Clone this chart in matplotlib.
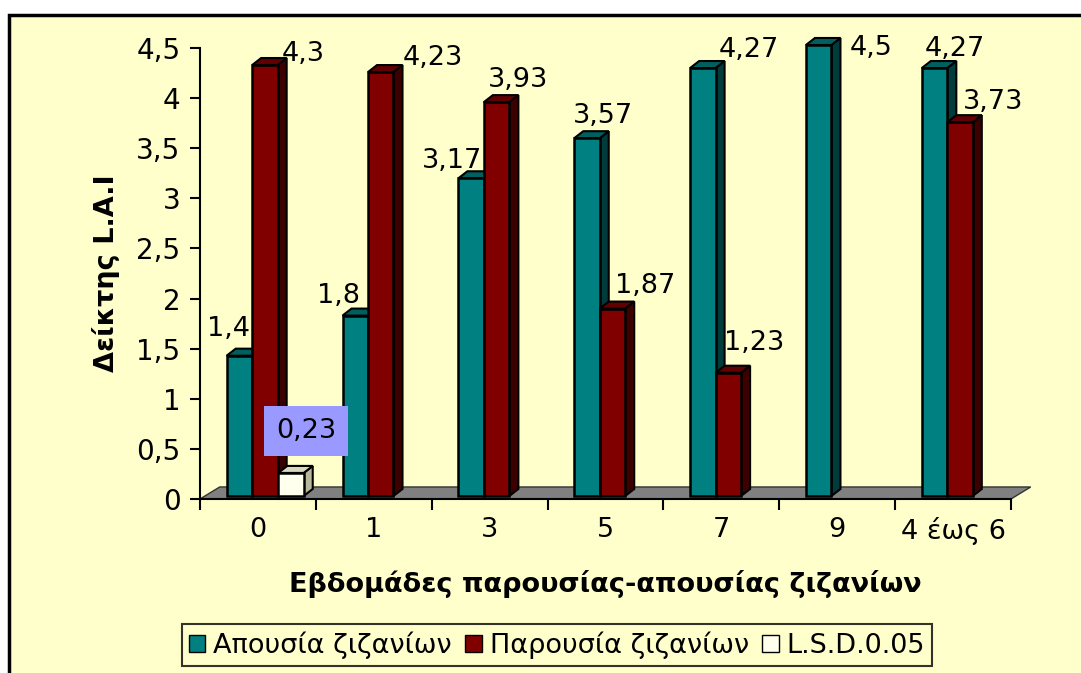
import numpy as np
import matplotlib
matplotlib.use("Agg")
import matplotlib.pyplot as plt
from matplotlib.patches import Polygon, Rectangle, Patch
from matplotlib.ticker import FuncFormatter, FixedLocator

categories = ["0", "1", "3", "5", "7", "9", "4 έως 6"]
absence = [1.4, 1.8, 3.17, 3.57, 4.27, 4.5, 4.27]
presence = [4.3, 4.23, 3.93, 1.87, 1.23, np.nan, 3.73]
lsd = [0.23, np.nan, np.nan, np.nan, np.nan, np.nan, np.nan]
series_names = ["Απουσία ζιζανίων", "Παρουσία ζιζανίων", "L.S.D.0.05"]

# label offsets in pixels (dx from bar centre, dy above bar top) - Excel places them oddly
lab_abs = [(-11, 20), (-17, 13), (-19, 10), (16, 15), (46, 11), (52, -10), (20, 12)]
lab_pres = [(38, 4), (52, 7), (21, 15), (33, 16), (26, 23), None, (33, 13)]
lab_lsd = [(15, 35)] + [None] * 6

bg = "#FFFFCC"
plt.rcParams["font.family"] = ["DejaVu Sans"]
fs = 19.5

W, H = 1081, 673
fig = plt.figure(figsize=(W / 100, H / 100), dpi=100)
fig.patch.set_facecolor("white")
fig.add_artist(Rectangle((9 / W, -0.05), 1.1, 1 - 15 / H + 0.05, transform=fig.transFigure,
                         facecolor=bg, edgecolor="black", linewidth=2.5, zorder=0))

ax = fig.add_axes([200 / W, 1 - 499 / H, 811 / W, 451 / H])
ax.set_facecolor("none")
ax.set_xlim(-0.5, len(categories) - 0.5)
ax.set_ylim(0, 4.5)

x = np.arange(len(categories))
w = 0.22
ddx, ddy = 0.078, 0.07     # bar depth
base = 0.03

# floor
fdx, fdy = 0.17, 0.12
floor = Polygon([(-0.5, 0), (6.5, 0), (6.5 + fdx, fdy), (-0.5 + fdx, fdy)], closed=True,
                facecolor="#808080", edgecolor="#333333", linewidth=1, zorder=1, clip_on=False)
ax.add_patch(floor)


def draw_bars(vals, offset, front, side, top, labels, z, box=None):
    for i, v in enumerate(vals):
        if np.isnan(v):
            continue
        c = x[i] + offset
        l, r = c - w / 2, c + w / 2
        t = base + v
        ax.add_patch(Polygon([(r, base), (r + ddx, base + ddy), (r + ddx, t + ddy), (r, t)],
                             facecolor=side, edgecolor="black", linewidth=1.5, zorder=z, clip_on=False))
        ax.add_patch(Polygon([(l, t), (l + ddx, t + ddy), (r + ddx, t + ddy), (r, t)],
                             facecolor=top, edgecolor="black", linewidth=1.5, zorder=z, clip_on=False))
        ax.bar(c, v, width=w, bottom=base, color=front, edgecolor="black", linewidth=1.8,
               zorder=z + 0.1, clip_on=False)
        if labels[i] is not None:
            dx, dy = labels[i]
            txt = ("%g" % v).replace(".", ",")
            kw = dict(xy=(c, t), xytext=(dx, dy), textcoords="offset pixels",
                      ha="center", va="baseline", fontsize=fs, zorder=10,
                      annotation_clip=False)
            if box:
                kw["bbox"] = dict(boxstyle="square,pad=0.45", facecolor=box, edgecolor="none")
            ax.annotate(txt, **kw)


draw_bars(absence, -0.16, "#008080", "#003C3C", "#006060", lab_abs, 3)
draw_bars(presence, 0.06, "#800000", "#3C0000", "#600000", lab_pres, 4)
draw_bars(lsd, 0.285, "#FFFFEE", "#B8B89A", "#D8D8C0", lab_lsd, 5, box="#9999FF")

# axes
for s in ["top", "right"]:
    ax.spines[s].set_visible(False)
for s in ["left", "bottom"]:
    ax.spines[s].set_linewidth(1.5)
    ax.spines[s].set_zorder(2)

ax.set_yticks(np.arange(0, 4.51, 0.5))
ax.yaxis.set_major_formatter(FuncFormatter(lambda v, p: ("%g" % v).replace(".", ",")))
ax.tick_params(axis="y", length=7, width=1.5, pad=7, labelsize=fs + 0.5)

ax.xaxis.set_major_locator(FixedLocator(np.arange(-0.5, len(categories), 1.0)))
ax.xaxis.set_major_formatter(FuncFormatter(lambda v, p: ""))
ax.xaxis.set_minor_locator(FixedLocator(x))
ax.set_xticklabels(categories, minor=True)
ax.tick_params(axis="x", which="major", length=8, width=1.5)
ax.tick_params(axis="x", which="minor", length=0, pad=13, labelsize=fs)

ax.set_ylabel("Δείκτης L.A.I", fontsize=fs, fontweight="bold", labelpad=12)
ax.set_xlabel("Εβδομάδες παρουσίας-απουσίας ζιζανίων", fontsize=fs, fontweight="bold", labelpad=18)

handles = [Patch(facecolor="#008080", edgecolor="black"),
           Patch(facecolor="#800000", edgecolor="black"),
           Patch(facecolor="#FFFFEE", edgecolor="black")]
leg = fig.legend(handles, series_names, loc="center", bbox_to_anchor=(557 / W, 1 - 645 / H),
                 ncol=3, fontsize=fs, frameon=True, fancybox=False, handlelength=0.6,
                 handleheight=0.6, handletextpad=0.3, columnspacing=0.5, borderpad=0.25,
                 borderaxespad=0)
leg.get_frame().set_facecolor(bg)
leg.get_frame().set_edgecolor("black")
leg.get_frame().set_linewidth(1.5)

fig.savefig("out.png", dpi=100, facecolor=fig.get_facecolor())
